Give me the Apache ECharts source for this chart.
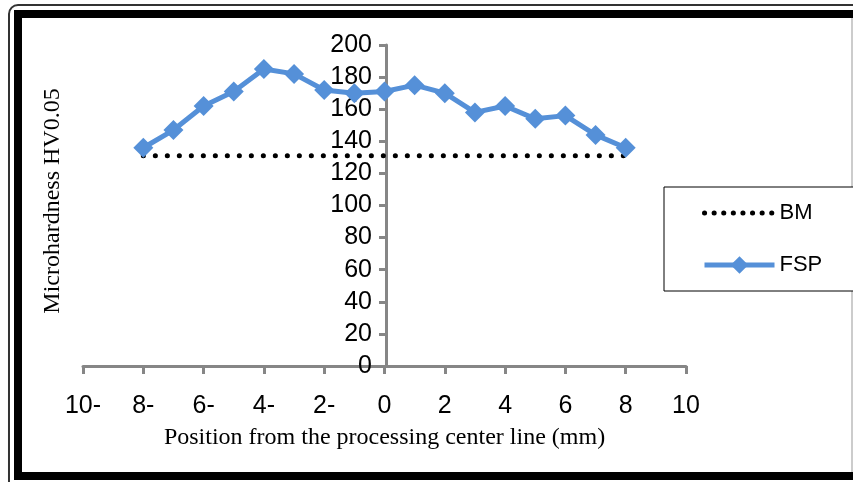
<!DOCTYPE html>
<html>
<head>
<meta charset="utf-8">
<style>
html,body{margin:0;padding:0;background:#fff;}
#chart{width:853px;height:482px;}
</style>
<script src="https://cdn.jsdelivr.net/npm/echarts@6/dist/echarts.min.js"></script>
</head>
<body>
<div id="chart"></div>
<script>
// Data
const positions = [-8,-7,-6,-5,-4,-3,-2,-1,0,1,2,3,4,5,6,7,8];
const fspValues = [136,147,162,171,185,182,172,170,171,175,170,158,162,154,156,144,136];
const bmValues  = [131,131,131,131,131,131,131,131,131,131,131,131,131,131,131,131,131];
const xTitle = 'Position from the processing center line (mm)';
const yTitle = 'Microhardness HV0.05';
const seriesNames = ['BM','FSP'];

const chart = echarts.init(document.getElementById('chart'), null, {renderer:'canvas'});
const axisGray = '#868686';
const fspColor = '#5590D8';
const gridLeft = 83, gridRight = 167;
const plotW = 853 - gridLeft - gridRight;

const option = {
  animation:false,
  backgroundColor:'#fff',
  grid:{left:gridLeft,right:gridRight,top:45,bottom:116,containLabel:false},
  xAxis:{
    type:'value', min:-10, max:10, interval:2,
    axisLine:{show:true,onZero:true,lineStyle:{color:axisGray,width:3}},
    axisTick:{show:true,inside:false,length:8,lineStyle:{color:axisGray,width:3}},
    splitLine:{show:false},
    axisLabel:{
      margin:28, color:'#000', fontFamily:'Liberation Sans, Arial', fontSize:25,
      formatter:function(v){return v<0 ? (Math.abs(v)+'-') : String(v);}
    },
    name:xTitle, nameLocation:'middle', nameGap:60,
    nameTextStyle:{color:'#000',fontFamily:'Liberation Serif, Times New Roman',fontSize:24}
  },
  yAxis:{
    type:'value', min:0, max:200, interval:20,
    offset:-(plotW/2) - 1.5,
    axisLine:{show:true,onZero:false,lineStyle:{color:axisGray,width:3}},
    axisTick:{show:true,inside:false,length:7,lineStyle:{color:axisGray,width:3}},
    splitLine:{show:false},
    axisLabel:{margin:14,color:'#000',fontFamily:'Liberation Sans, Arial',fontSize:25}
  },
  legend:{
    orient:'vertical', left:664, top:187,
    padding:[15,32,15,38], itemGap:30, itemWidth:70, itemHeight:22,
    borderColor:'#000', borderWidth:1, backgroundColor:'#fff',
    textStyle:{color:'#000',fontFamily:'Liberation Sans, Arial',fontSize:22},
    data:[
      {name:seriesNames[0], itemStyle:{opacity:0},
       lineStyle:{color:'#000',width:5,type:[0.1,9.5],cap:'round'}},
      {name:seriesNames[1], lineStyle:{color:fspColor,width:5}}
    ]
  },
  graphic:[
    {type:'rect',silent:true,z:-10,shape:{x:9,y:5,width:900,height:520,r:9},style:{fill:null,stroke:'#333',lineWidth:2}},
    {type:'rect',silent:true,z:-10,shape:{x:18,y:14,width:900,height:462},style:{fill:null,stroke:'#000',lineWidth:8}},
    {type:'line',silent:true,z:-10,shape:{x1:852,y1:18,x2:852,y2:472},style:{stroke:'#999',lineWidth:1}},
    {type:'text',silent:true,x:53,y:201,rotation:Math.PI/2,
     style:{text:yTitle,fill:'#000',font:'24px "Liberation Serif", "Times New Roman"',align:'center',verticalAlign:'middle'}}
  ],
  series:[
    {
      name:seriesNames[0], type:'line', z:2,
      data:positions.map((x,i)=>[x,bmValues[i]]),
      showSymbol:false, symbol:'none',
      itemStyle:{color:'#000'},
      lineStyle:{color:'#000',width:5,type:[0.1,11.9],cap:'round'}
    },
    {
      name:seriesNames[1], type:'line', z:3,
      data:positions.map((x,i)=>[x,fspValues[i]]),
      symbol:'diamond', symbolSize:20,
      itemStyle:{color:fspColor},
      lineStyle:{color:fspColor,width:5}
    }
  ]
};
chart.setOption(option);
</script>
</body>
</html>
